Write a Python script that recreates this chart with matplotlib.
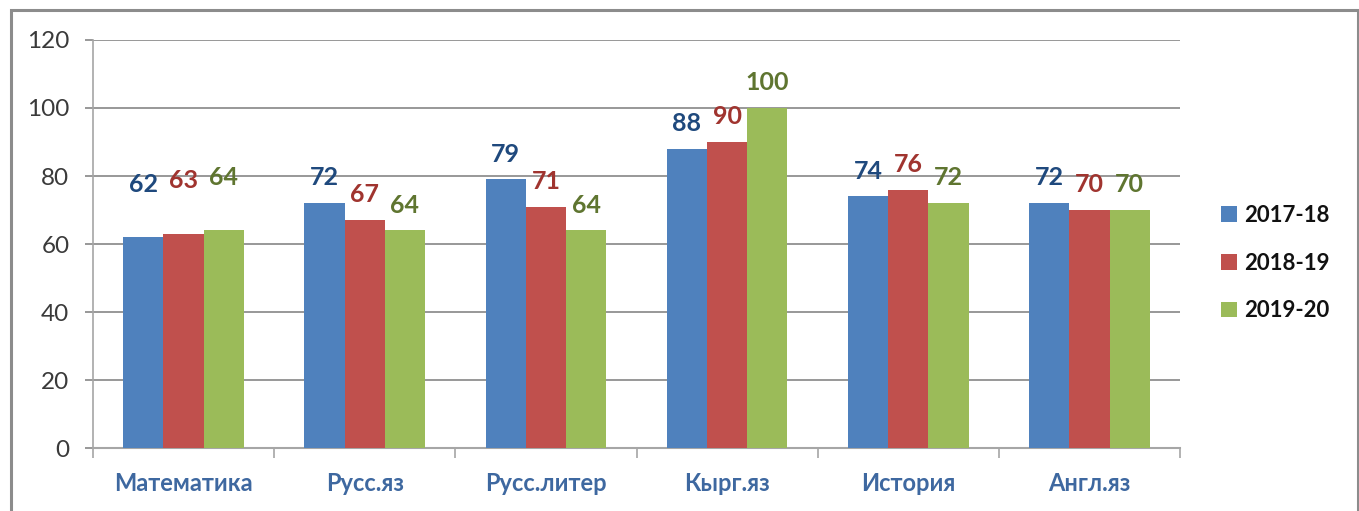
import matplotlib
matplotlib.use("Agg")
import matplotlib.pyplot as plt
from matplotlib.patches import Rectangle, Patch
import numpy as np

plt.rcParams['font.family'] = ['Lato', 'DejaVu Sans']

categories = ["Математика", "Русс.яз", "Русс.литер", "Кырг.яз", "История", "Англ.яз"]
series_names = ["2017-18", "2018-19", "2019-20"]
v2017 = [62, 72, 79, 88, 74, 72]
v2018 = [63, 67, 71, 90, 76, 70]
v2019 = [64, 64, 64, 100, 72, 70]
yticks = [0, 20, 40, 60, 80, 100, 120]

series = [v2017, v2018, v2019]
bar_colors = ["#4F81BD", "#C0504D", "#9BBB59"]
label_colors = ["#1F497D", "#A0342F", "#5F7530"]
extra_offset = [20, 0, 0, 0, 0, 0]  # Математика labels sit higher

W, H = 1359, 511
fig = plt.figure(figsize=(W / 100, H / 100), dpi=100)
fig.patch.set_facecolor("white")
fig.add_artist(Rectangle((11 / W, -0.05), (W - 12) / W, (H - 10) / H + 0.05,
                         transform=fig.transFigure, fill=False,
                         edgecolor="#8C8C8C", lw=2.2))

ax = fig.add_axes([93 / W, 63 / H, 1087 / W, 408 / H])
x = np.arange(len(categories))
bw = 0.222
for i, (vals, c) in enumerate(zip(series, bar_colors)):
    pos = x + (i - 1) * bw
    ax.bar(pos, vals, width=bw, color=c, zorder=3, label=series_names[i])
    for j, (p, v) in enumerate(zip(pos, vals)):
        ax.annotate(str(v), (p, v), xytext=(0, 10 + extra_offset[j]),
                    textcoords="offset points", ha="center", va="bottom",
                    fontsize=18, fontweight="bold", color=label_colors[i])

ax.set_xlim(-0.5, len(categories) - 0.5)
ax.set_ylim(0, 120)
ax.set_yticks(yticks)
ax.yaxis.grid(True, color="#868686", lw=1.2, zorder=0)
ax.set_axisbelow(True)
for s in ["top", "right"]:
    ax.spines[s].set_visible(False)
ax.spines["left"].set_color("#A6A6A6")
ax.spines["left"].set_linewidth(1.2)
ax.spines["bottom"].set_color("#A6A6A6")
ax.spines["bottom"].set_linewidth(1.5)
ax.tick_params(axis="y", length=6, width=1.2, color="#868686", labelsize=17.5,
               labelcolor="#3A3A3A", pad=11)
ax.set_xticks(x)
ax.set_xticklabels(categories, fontsize=17, fontweight="bold", color="#3E68A0")
ax.tick_params(axis="x", length=0, pad=17)
ax.set_xticks(np.arange(len(categories) + 1) - 0.5, minor=True)
ax.tick_params(axis="x", which="minor", length=7, width=1.2, color="#A6A6A6")

handles = [Patch(facecolor=c) for c in bar_colors]
leg = fig.legend(handles, series_names, loc="center left",
                 bbox_to_anchor=(1201 / W, 1 - 263 / H), frameon=False,
                 prop={"size": 16, "weight": "bold"}, handlelength=0.7,
                 handleheight=0.7, handletextpad=0.35, labelspacing=1.2)
for t in leg.get_texts():
    t.set_color("#111111")

fig.savefig("out.png", dpi=100, facecolor="white")
